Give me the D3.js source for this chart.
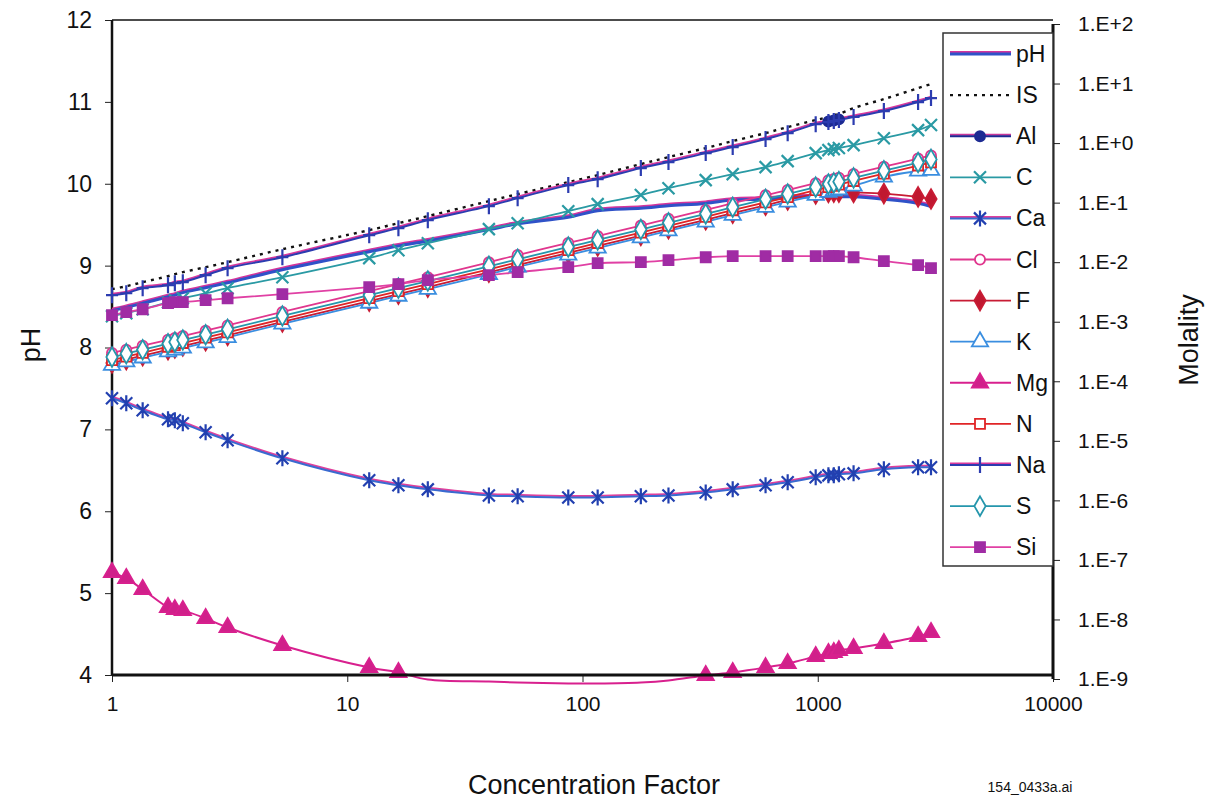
<!DOCTYPE html>
<html>
<head>
<meta charset="utf-8">
<script src="https://cdn.jsdelivr.net/npm/d3@7"></script>
<style>
  body { margin: 0; background: #fff; }
  svg { display: block; font-family: "Liberation Sans", Arial, sans-serif; }
</style>
</head>
<body>
<script>
// concentration factor steps of the model run
const cf = [1.0, 1.15, 1.35, 1.73, 1.85, 2.0, 2.5, 3.1, 5.3, 12.4, 16.5, 22, 40, 53, 87, 116,
  177, 232, 334, 435, 600, 745, 980, 1110, 1170, 1230, 1420, 1910, 2670, 3030];

// pH (left axis)
const pH = [8.45, 8.49, 8.54, 8.62, 8.64, 8.67, 8.73, 8.79, 8.95, 9.17, 9.24, 9.30, 9.44, 9.51, 9.59, 9.67,
  9.70, 9.73, 9.76, 9.80, 9.81, 9.83, 9.84, 9.84, 9.84, 9.84, 9.84, 9.81, 9.76, 9.72];

// molality (right axis)
const IS = [3.52e-3, 3.95e-3, 4.61e-3, 5.82e-3, 6.29e-3, 6.79e-3, 8.24e-3, 1.00e-2, 1.65e-2, 3.45e-2, 4.52e-2, 5.93e-2, 0.106, 0.139, 0.221, 0.290,
  0.443, 0.582, 0.824, 1.08, 1.47, 1.86, 2.44, 2.74, 2.96, 3.07, 3.87, 5.48, 8.39, 9.81];
const Al = [null, null, null, null, null, null, null, null, null, null, null, null, null, null, null, null,
  null, null, null, null, null, null, null, 2.3, 2.4, 2.5, null, null, null, null];
const C = [1.24e-3, 1.39e-3, 1.62e-3, 2.13e-3, 2.30e-3, 2.48e-3, 3.01e-3, 3.66e-3, 5.60e-3, 1.17e-2, 1.59e-2, 2.08e-2, 3.59e-2, 4.52e-2, 7.19e-2, 9.44e-2,
  0.134, 0.175, 0.239, 0.301, 0.395, 0.498, 0.679, 0.762, 0.792, 0.824, 0.925, 1.21, 1.65, 2.01];
const Ca = [5.18e-5, 4.26e-5, 3.26e-5, 2.30e-5, 2.21e-5, 1.97e-5, 1.39e-5, 1.02e-5, 5.08e-6, 2.17e-6, 1.79e-6, 1.53e-6, 1.21e-6, 1.17e-6, 1.12e-6, 1.12e-6,
  1.17e-6, 1.21e-6, 1.36e-6, 1.53e-6, 1.79e-6, 2.01e-6, 2.44e-6, 2.63e-6, 2.63e-6, 2.74e-6, 2.84e-6, 3.32e-6, 3.59e-6, 3.59e-6];
const Cl = [2.98e-4, 3.40e-4, 3.95e-4, 4.98e-4, 5.32e-4, 5.75e-4, 7.06e-4, 8.67e-4, 1.46e-3, 3.27e-3, 4.29e-3, 5.62e-3, 9.95e-3, 1.32e-2, 2.10e-2, 2.75e-2,
  4.12e-2, 5.36e-2, 7.57e-2, 9.77e-2, 0.133, 0.163, 0.212, 0.239, 0.251, 0.263, 0.303, 0.401, 0.551, 0.621];
const F = [2.03e-4, 2.31e-4, 2.69e-4, 3.39e-4, 3.62e-4, 3.91e-4, 4.80e-4, 5.90e-4, 9.93e-4, 2.22e-3, 2.91e-3, 3.82e-3, 6.77e-3, 8.91e-3, 1.43e-2, 1.87e-2,
  2.80e-2, 3.64e-2, 5.15e-2, 6.64e-2, 9.04e-2, 0.111, 0.140, 0.148, 0.150, 0.150, 0.148, 0.142, 0.125, 0.115];
const K = [1.87e-4, 2.14e-4, 2.48e-4, 3.13e-4, 3.35e-4, 3.62e-4, 4.44e-4, 5.45e-4, 9.18e-4, 2.06e-3, 2.70e-3, 3.53e-3, 6.26e-3, 8.30e-3, 1.32e-2, 1.73e-2,
  2.59e-2, 3.37e-2, 4.76e-2, 6.15e-2, 8.37e-2, 0.103, 0.133, 0.150, 0.158, 0.165, 0.191, 0.27, 0.34, 0.35];
const Mg = [6.17e-8, 4.89e-8, 3.19e-8, 1.59e-8, 1.47e-8, 1.42e-8, 1.04e-8, 7.34e-9, 3.66e-9, 1.56e-9, 1.29e-9, 9.8e-10, 9.08e-10, 8.73e-10, 8.40e-10, 8.40e-10,
  8.73e-10, 9.44e-10, 1.15e-9, 1.29e-9, 1.56e-9, 1.82e-9, 2.39e-9, 2.69e-9, 2.79e-9, 3.01e-9, 3.26e-9, 3.95e-9, 5.18e-9, 6.05e-9];
const N = [2.27e-4, 2.59e-4, 3.01e-4, 3.80e-4, 4.06e-4, 4.39e-4, 5.39e-4, 6.62e-4, 1.11e-3, 2.50e-3, 3.27e-3, 4.29e-3, 7.60e-3, 1.00e-2, 1.60e-2, 2.10e-2,
  3.14e-2, 4.09e-2, 5.78e-2, 7.45e-2, 0.101, 0.124, 0.162, 0.182, 0.192, 0.201, 0.231, 0.306, 0.420, 0.474];
const Na = [2.79e-3, 3.01e-3, 3.66e-3, 4.10e-3, 4.43e-3, 4.61e-3, 6.05e-3, 7.93e-3, 1.21e-2, 2.84e-2, 3.73e-2, 5.08e-2, 8.73e-2, 0.119, 0.197, 0.248,
  0.380, 0.480, 0.679, 0.857, 1.17, 1.47, 2.08, 2.25, 2.34, 2.44, 2.74, 3.45, 4.89, 5.70];
const S = [2.55e-4, 2.91e-4, 3.39e-4, 4.27e-4, 4.56e-4, 4.93e-4, 6.05e-4, 7.43e-4, 1.25e-3, 2.80e-3, 3.67e-3, 4.82e-3, 8.54e-3, 1.12e-2, 1.80e-2, 2.36e-2,
  3.53e-2, 4.59e-2, 6.49e-2, 8.37e-2, 0.114, 0.140, 0.182, 0.205, 0.215, 0.225, 0.260, 0.344, 0.472, 0.532];
const Si = [1.29e-3, 1.45e-3, 1.62e-3, 2.05e-3, 2.13e-3, 2.13e-3, 2.30e-3, 2.48e-3, 2.90e-3, 3.80e-3, 4.27e-3, 4.98e-3, 6.05e-3, 6.79e-3, 8.24e-3, 9.62e-3,
  1.00e-2, 1.08e-2, 1.21e-2, 1.26e-2, 1.26e-2, 1.26e-2, 1.26e-2, 1.26e-2, 1.26e-2, 1.26e-2, 1.21e-2, 1.04e-2, 8.91e-3, 7.93e-3];

const phTicks = [4, 5, 6, 7, 8, 9, 10, 11, 12];
const molTicks = [1e-9, 1e-8, 1e-7, 1e-6, 1e-5, 1e-4, 1e-3, 1e-2, 1e-1, 1e0, 1e1, 1e2];
const cfTicks = [1, 10, 100, 1000, 10000];

// series in legend order
const series = [
  { name: "pH", values: pH, axis: "left" },
  { name: "IS", values: IS, axis: "right" },
  { name: "Al", values: Al, axis: "right" },
  { name: "C", values: C, axis: "right" },
  { name: "Ca", values: Ca, axis: "right" },
  { name: "Cl", values: Cl, axis: "right" },
  { name: "F", values: F, axis: "right" },
  { name: "K", values: K, axis: "right" },
  { name: "Mg", values: Mg, axis: "right" },
  { name: "N", values: N, axis: "right" },
  { name: "Na", values: Na, axis: "right" },
  { name: "S", values: S, axis: "right" },
  { name: "Si", values: Si, axis: "right" }
];

// look of each series
const style = {
  pH: { color: "#2f52c8", fringe: "#d4359c", width: 3, marker: null },
  IS: { color: "#111", width: 2.4, dash: "3,5", marker: null },
  Al: { color: "#1c2a92", fringe: "#c8389a", width: 2, marker: "circle", fill: "#1c2a92" },
  C:  { color: "#2a9aa4", width: 1.8, marker: "x", fill: "none" },
  Ca: { color: "#3a6ad0", fringe: "#e0409c", width: 2, marker: "star", fill: "none", mk: "#2240b0" },
  Cl: { color: "#e0368e", width: 1.8, marker: "circle", fill: "#fff" },
  F:  { color: "#c81c34", width: 1.8, marker: "diamond", fill: "#c01830" },
  K:  { color: "#3a8ee0", width: 1.8, marker: "triangle", fill: "#fff" },
  Mg: { color: "#d8208e", width: 2, marker: "triangle", fill: "#d0208a" },
  N:  { color: "#e02426", width: 1.8, marker: "square", fill: "#fff" },
  Na: { color: "#2c3cb0", fringe: "#d8389c", width: 2, marker: "plus", fill: "none" },
  S:  { color: "#2596ac", width: 1.8, marker: "diamond", fill: "#fff" },
  Si: { color: "#e040a4", width: 1.8, marker: "square", fill: "#a02ca4" }
};

const width = 1209, height = 802;

const x = d3.scaleLog().domain([1, 10000]).range([112, 1053]);
const yL = d3.scaleLinear().domain([4, 12]).range([675, 20]);
const yR = d3.scaleLog().domain([1e-9, 1e2]).range([679, 24]);

const svg = d3.select("body").append("svg")
  .attr("width", width)
  .attr("height", height);

svg.append("rect").attr("width", width).attr("height", height).attr("fill", "#fff");

function markerPath(kind) {
  if (kind === "circle") return d3.symbol(d3.symbolCircle, 80)();
  if (kind === "diamond") return d3.symbol(d3.symbolDiamond, 110)();
  if (kind === "triangle") return d3.symbol(d3.symbolTriangle, 115)();
  if (kind === "square") return d3.symbol(d3.symbolSquare, 100)();
  if (kind === "x") return "M-6,-6L6,6M-6,6L6,-6";
  if (kind === "star") return "M-6,-6L6,6M-6,6L6,-6M0,-8V8";
  if (kind === "plus") return "M-6,0H6M0,-8V8";
  return "";
}

function drawMarker(sel, name) {
  const st = style[name];
  const open = st.marker === "x" || st.marker === "star" || st.marker === "plus";
  sel.attr("d", markerPath(st.marker))
    .attr("fill", open ? "none" : st.fill)
    .attr("stroke", st.mk || (name === "Si" ? st.fill : st.color))
    .attr("stroke-width", open ? 2.2 : 1.8);
}

// axes
const gLeft = svg.append("g")
  .attr("transform", `translate(${x(1)},0)`)
  .call(d3.axisLeft(yL).tickValues(phTicks).tickSize(7).tickPadding(13).tickFormat(d3.format("d")));
gLeft.select(".domain").remove();
gLeft.selectAll("text").attr("font-size", 23).attr("fill", "#111").attr("font-family", null);
gLeft.selectAll("line").attr("stroke", "#222");

const gRight = svg.append("g")
  .attr("transform", `translate(${x(10000)},0)`)
  .call(d3.axisRight(yR).tickValues(molTicks).tickSize(7).tickPadding(18)
    .tickFormat(d => { const e = Math.round(Math.log10(d)); return "1.E" + (e >= 0 ? "+" : "-") + Math.abs(e); }));
gRight.select(".domain").remove();
gRight.selectAll("text").attr("font-size", 21).attr("fill", "#111").attr("font-family", null);
gRight.selectAll("line").attr("stroke", "#222");

const gBottom = svg.append("g")
  .attr("transform", `translate(0,${yL(4)})`)
  .call(d3.axisBottom(x).tickValues(cfTicks).tickSize(7).tickPadding(14).tickFormat(d3.format("d")));
gBottom.select(".domain").remove();
gBottom.selectAll("text").attr("font-size", 21).attr("fill", "#111").attr("font-family", null);
gBottom.selectAll("line").attr("stroke", "#222");

// frame
svg.append("line").attr("x1", x(1)).attr("x2", x(10000)).attr("y1", yL(12)).attr("y2", yL(12))
  .attr("stroke", "#111").attr("stroke-width", 1.5);
svg.append("line").attr("x1", x(1)).attr("x2", x(1)).attr("y1", yL(12)).attr("y2", yL(4))
  .attr("stroke", "#111").attr("stroke-width", 2.5);
svg.append("line").attr("x1", x(10000)).attr("x2", x(10000)).attr("y1", yR(1e2)).attr("y2", yR(1e-9))
  .attr("stroke", "#111").attr("stroke-width", 3);

// series lines
const plot = svg.append("g");
series.forEach(s => {
  const st = style[s.name];
  const yS = s.axis === "left" ? yL : yR;
  const pts = cf.map((c, i) => ({ c, v: s.values[i] })).filter(d => d.v != null);
  const line = d3.line()
    .x(d => x(d.c))
    .y(d => yS(d.v))
    .curve(d3.curveCatmullRom);
  if (st.fringe) {
    plot.append("path").datum(pts).attr("d", line)
      .attr("fill", "none").attr("stroke", st.fringe).attr("stroke-width", st.width)
      .attr("transform", "translate(0,-1.5)");
  }
  plot.append("path").datum(pts).attr("d", line)
    .attr("fill", "none").attr("stroke", st.color).attr("stroke-width", st.width)
    .attr("stroke-dasharray", st.dash || null);
});

// bottom axis line drawn over the lines
svg.append("line").attr("x1", x(1)).attr("x2", x(10000)).attr("y1", yL(4)).attr("y2", yL(4))
  .attr("stroke", "#111").attr("stroke-width", 3);

// markers (hidden below the molality axis minimum)
series.forEach(s => {
  const st = style[s.name];
  if (!st.marker) return;
  const yS = s.axis === "left" ? yL : yR;
  const pts = cf.map((c, i) => ({ c, v: s.values[i] })).filter(d => d.v != null && d.v >= 1e-9);
  plot.append("g").selectAll("path")
    .data(pts)
    .join("path")
    .attr("transform", d => `translate(${x(d.c)},${yS(d.v)})`)
    .call(sel => drawMarker(sel, s.name));
});

// legend
const legend = svg.append("g");
legend.append("rect")
  .attr("x", 943).attr("y", 33).attr("width", x(10000) - 943).attr("height", 533)
  .attr("fill", "#fff").attr("stroke", "#333").attr("stroke-width", 1.5);

const item = legend.selectAll("g.item")
  .data(series)
  .join("g")
  .attr("class", "item")
  .attr("transform", (d, i) => `translate(0,${54 + i * 41.1})`);

item.each(function (d) {
  const g = d3.select(this);
  const st = style[d.name];
  if (st.fringe) {
    g.append("line").attr("x1", 950).attr("x2", 1011).attr("y1", -1.5).attr("y2", -1.5)
      .attr("stroke", st.fringe).attr("stroke-width", st.width);
  }
  g.append("line").attr("x1", 950).attr("x2", 1011).attr("y1", 0).attr("y2", 0)
    .attr("stroke", st.color).attr("stroke-width", st.width)
    .attr("stroke-dasharray", st.dash || null);
  if (st.marker) {
    g.append("path").attr("transform", "translate(980,0)").call(sel => drawMarker(sel, d.name));
  }
  g.append("text").attr("x", 1016).attr("y", 8).attr("font-size", 23).attr("fill", "#111").text(d.name);
});

// titles
svg.append("text")
  .attr("transform", "translate(40,345) rotate(-90)")
  .attr("text-anchor", "middle").attr("font-size", 27).attr("fill", "#111")
  .text("pH");
svg.append("text")
  .attr("transform", "translate(1198,340) rotate(-90)")
  .attr("text-anchor", "middle").attr("font-size", 27).attr("fill", "#111")
  .text("Molality");
svg.append("text")
  .attr("x", 594).attr("y", 794)
  .attr("text-anchor", "middle").attr("font-size", 27).attr("fill", "#111")
  .text("Concentration Factor");
svg.append("text")
  .attr("x", 1030).attr("y", 792)
  .attr("text-anchor", "middle").attr("font-size", 14).attr("fill", "#111")
  .text("154_0433a.ai");
</script>
</body>
</html>
